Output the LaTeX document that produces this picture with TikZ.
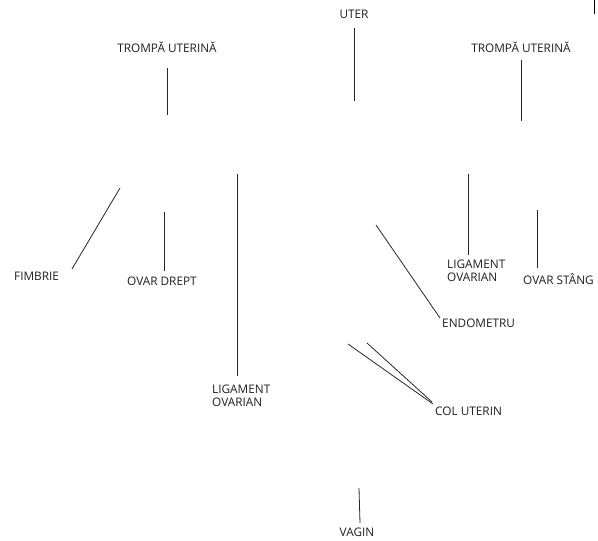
\documentclass[tikz,border=0pt]{standalone}
\usepackage{fontspec}
\setmainfont{Open Sans}
\begin{document}
\begin{tikzpicture}[x=1pt,y=-1pt,
  lbl/.style={inner sep=0pt,font=\fontsize{11.8}{13}\selectfont,text=black!88},
  lead/.style={draw=black!85,line width=0.8pt}]
\useasboundingbox (0,0) rectangle (598,541);
% labels
\node[lbl] (uter) at (354,14) {UTER};
\node[lbl] (tl) at (167,47) {TROMPĂ UTERINĂ};
\node[lbl] (tr) at (521,47) {TROMPĂ UTERINĂ};
\node[lbl,anchor=west] (fimb) at (14,276) {FIMBRIE};
\node[lbl,anchor=west] (ovd) at (127,281) {OVAR DREPT};
\node[lbl,anchor=north west,align=left] (ligl) at (212,385) {LIGAMENT\\OVARIAN};
\node[lbl,anchor=north west,align=left] (ligr) at (447,260) {LIGAMENT\\OVARIAN};
\node[lbl,anchor=west] (ovs) at (523,279) {OVAR STÂNG};
\node[lbl,anchor=west] (endo) at (442,323) {ENDOMETRU};
\node[lbl,anchor=west] (col) at (435,411) {COL UTERIN};
\node[lbl] (vag) at (357,532) {VAGIN};
% leader end points
\coordinate (uterA) at (354,28); \coordinate (uterB) at (354,101);
\coordinate (tlA) at (167,68); \coordinate (tlB) at (167,115);
\coordinate (trA) at (521,60); \coordinate (trB) at (521,121);
\coordinate (fimA) at (72,269); \coordinate (fimB) at (120,188);
\coordinate (ovdA) at (164.5,271); \coordinate (ovdB) at (164.5,212);
\coordinate (liglA) at (237,376); \coordinate (liglB) at (237,174);
\coordinate (ligrA) at (468,255); \coordinate (ligrB) at (468,174);
\coordinate (ovsA) at (537,268); \coordinate (ovsB) at (537,210);
\coordinate (endA) at (440,318); \coordinate (endB) at (376,225);
\coordinate (colA) at (433,404); \coordinate (colB) at (348,344);
\coordinate (colC) at (432,402); \coordinate (colD) at (367,343);
\coordinate (vagA) at (360,523); \coordinate (vagB) at (359,488);
\coordinate (mkA) at (594.5,0); \coordinate (mkB) at (594.5,14);
% leaders
\draw[lead] (uterA) -- (uterB);
\draw[lead] (tlA) -- (tlB);
\draw[lead] (trA) -- (trB);
\draw[lead] (fimA) -- (fimB);
\draw[lead] (ovdA) -- (ovdB);
\draw[lead] (liglA) -- (liglB);
\draw[lead] (ligrA) -- (ligrB);
\draw[lead] (ovsA) -- (ovsB);
\draw[lead] (endA) -- (endB);
\draw[lead] (colA) -- (colB);
\draw[lead] (colC) -- (colD);
\draw[lead] (vagA) -- (vagB);
\draw[draw=black,line width=1.6pt] (mkA) -- (mkB);
\end{tikzpicture}
\end{document}
